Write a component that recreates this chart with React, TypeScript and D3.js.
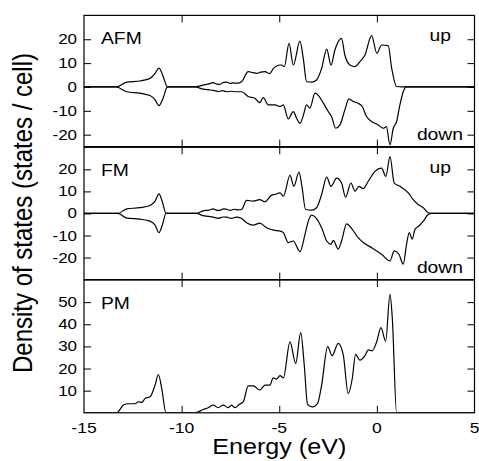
import React, { useRef, useEffect } from "react";
import * as d3 from "d3";

// [energy (eV), DOS (states / cell)], spin down stored as negative
const afmUp = [
  [-15, 0], [-13.35, 0], [-12.81, 2], [-12.13, 2.5], [-11.62, 3.6], [-11.36, 5.7], [-11.16, 7.9], [-10.94, 4.3], [-10.73, 0],
  [-9.32, 0], [-8.9, 0.8], [-8.6, 1.3], [-8.38, 1.8], [-8.2, 1.2], [-8.04, 1.1], [-7.85, 1.9], [-7.7, 2], [-7.5, 1.5],
  [-7.35, 1.7], [-7.15, 1.6], [-6.93, 2.2], [-6.59, 6.4], [-6.35, 6.0], [-6.16, 5.7], [-5.95, 6.2], [-5.73, 6.4],
  [-5.48, 5.6], [-5.3, 7.8], [-5.13, 8.8], [-4.96, 9.2], [-4.88, 9.2], [-4.74, 8.5], [-4.5, 18.3], [-4.28, 9.2],
  [-3.94, 19.2], [-3.77, 12], [-3.6, 2.2], [-3.34, 2], [-3.09, 2.9], [-2.83, 7.8], [-2.57, 15.9], [-2.35, 9.2],
  [-2.15, 15.5], [-1.81, 20.4], [-1.64, 13.4], [-1.38, 9.2], [-1.12, 8.5], [-0.87, 10.6], [-0.61, 13.4], [-0.27, 21.5],
  [0, 14.1], [0.24, 17.6], [0.58, 17.3], [0.76, 7.8], [1.01, 0.2], [1.27, 0], [5, 0],
];
const afmDown = [
  [-15, 0], [-13.35, 0], [-12.81, -2], [-12.13, -2.6], [-11.62, -3.6], [-11.36, -5.4], [-11.16, -7.8], [-10.94, -4.5],
  [-10.73, 0], [-9.32, 0], [-8.9, -0.9], [-8.6, -1.2], [-8.38, -1.4], [-8.1, -1.9], [-7.9, -1.5], [-7.7, -2], [-7.45, -1.8],
  [-7.2, -2], [-6.93, -2], [-6.59, -4], [-6.25, -4.7], [-6.0, -6.6], [-5.82, -4.5], [-5.56, -7.5], [-5.22, -7.5],
  [-4.96, -8.2], [-4.79, -7.5], [-4.54, -13.4], [-4.28, -10.3], [-4.11, -13.1], [-3.94, -15.2], [-3.77, -12], [-3.6, -7.5],
  [-3.43, -8.9], [-3.17, -2.6], [-3.0, -3.5], [-2.74, -6.8], [-2.49, -10.3], [-2.32, -12.4], [-2.11, -17.3], [-1.89, -15.9],
  [-1.64, -9.6], [-1.43, -5], [-1.21, -6.1], [-0.96, -6.8], [-0.75, -8.2], [-0.53, -12.4], [-0.27, -14.5], [0.07, -15.9],
  [0.32, -17.3], [0.49, -16.6], [0.67, -24.3], [0.84, -17.3], [1.01, -14.5], [1.18, -7.5], [1.35, -2], [1.52, 0], [5, 0],
];
const fmUp = [
  [-15, 0], [-13.27, 0], [-12.81, 2.1], [-12.13, 2.6], [-11.62, 3.6], [-11.36, 5.6], [-11.16, 8.9], [-10.98, 5], [-10.8, 0],
  [-9.23, 0], [-8.9, 1.2], [-8.6, 1.5], [-8.38, 2.1], [-8.2, 1.4], [-8.04, 1.4], [-7.85, 2.1], [-7.7, 1.9], [-7.5, 1.4],
  [-7.3, 1.9], [-7.1, 1.6], [-6.93, 1.8], [-6.67, 5.9], [-6.33, 5.6], [-6.0, 6.3], [-5.73, 5.3], [-5.39, 8.3], [-5.22, 8.6],
  [-4.96, 9.3], [-4.79, 7.8], [-4.45, 17.3], [-4.25, 12.3], [-3.99, 18.8], [-3.85, 13], [-3.65, 1.8], [-3.34, 1.5],
  [-3.09, 2.6], [-2.83, 8.6], [-2.57, 16.5], [-2.35, 12.3], [-2.06, 16], [-1.81, 13.8], [-1.6, 7.4], [-1.33, 13.8],
  [-1.12, 10.1], [-0.92, 12.3], [-0.7, 11.3], [-0.44, 14.6], [-0.1, 19.1], [0.24, 20.6], [0.46, 16.8], [0.67, 25.8],
  [0.89, 13.8], [1.18, 12.3], [1.61, 9.3], [1.86, 6.3], [2.12, 4.1], [2.38, 2.6], [2.63, 0.3], [2.8, 0], [5, 0],
];
const fmDown = [
  [-15, 0], [-13.27, 0], [-12.81, -2.1], [-12.13, -2.6], [-11.62, -3.5], [-11.36, -5.3], [-11.16, -8.7], [-10.98, -5],
  [-10.8, 0], [-9.23, 0], [-8.9, -1], [-8.6, -1.3], [-8.38, -1.7], [-8.1, -2.2], [-7.9, -1.6], [-7.7, -1.7], [-7.45, -2.2],
  [-7.2, -1.7], [-6.93, -2.3], [-6.67, -4.2], [-6.33, -5.3], [-6.0, -4.4], [-5.65, -6.5], [-5.22, -7.7], [-4.96, -8],
  [-4.79, -8.7], [-4.54, -13.2], [-4.28, -12.5], [-3.94, -17.3], [-3.68, -9.5], [-3.51, -3.5], [-3.34, -0.8], [-3.09, -2.3],
  [-2.83, -6.5], [-2.57, -12.5], [-2.35, -14], [-2.23, -12.2], [-1.98, -16.2], [-1.81, -12.5], [-1.55, -4.7], [-1.26, -7.2],
  [-0.96, -11], [-0.7, -13.2], [-0.27, -15.5], [0.24, -18.5], [0.67, -21.5], [0.89, -17], [1.13, -18.5], [1.35, -23],
  [1.52, -14], [1.66, -8.7], [1.81, -11.7], [1.95, -7.2], [2.15, -5.7], [2.38, -3.5], [2.63, -0.5], [2.8, 0], [5, 0],
];
const pm = [
  [-15, 0], [-13.33, 0], [-12.98, 3.5], [-12.73, 4.1], [-12.39, 4.1], [-12.2, 5], [-12.04, 4.7], [-11.87, 6.5], [-11.62, 7.2],
  [-11.36, 12.5], [-11.19, 17.3], [-11.02, 11], [-10.8, 0], [-9.32, 0], [-8.89, 1.5], [-8.64, 2.3], [-8.38, 3.5],
  [-8.13, 2.3], [-7.87, 3.5], [-7.62, 2.3], [-7.44, 3.5], [-7.27, 2.3], [-7.05, 3.8], [-6.84, 5], [-6.59, 12.2],
  [-6.33, 12.2], [-6.0, 10.3], [-5.73, 12.5], [-5.48, 12.5], [-5.31, 15.8], [-5.15, 15.2], [-4.96, 16.8], [-4.79, 15.8],
  [-4.45, 32], [-4.16, 22.3], [-3.9, 36.2], [-3.72, 21.6], [-3.55, 3.8], [-3.31, 2.7], [-3.04, 4.2], [-2.83, 12.5],
  [-2.52, 29.9], [-2.29, 25.8], [-1.98, 31.4], [-1.72, 26.1], [-1.47, 8.7], [-1.26, 15.5], [-1.09, 26.4], [-0.87, 23.8],
  [-0.61, 25.8], [-0.44, 28.4], [-0.24, 28], [-0.01, 32.1], [0.21, 38.5], [0.45, 32.4], [0.67, 53.5], [0.79, 42.7],
  [1.01, 0], [5, 0],
];

const xTicks = [-15, -10, -5, 0, 5];
const afmTicks = [-20, -10, 0, 10, 20];
const fmTicks = [-20, -10, 0, 10, 20];
const pmTicks = [10, 20, 30, 40, 50];

const panels = [
  { name: "AFM", series: [afmUp, afmDown], domain: [-25, 30], ticks: afmTicks, top: 15.4, bottom: 146.6, spin: true },
  { name: "FM", series: [fmUp, fmDown], domain: [-30, 30], ticks: fmTicks, top: 147.3, bottom: 279.6, spin: true },
  { name: "PM", series: [pm], domain: [0, 60], ticks: pmTicks, top: 280, bottom: 412.8, spin: false },
];

const FONT = "'Liberation Sans', Arial, Helvetica, sans-serif";
const SX = 1.17; // the original figure is a little wider than tall

const App = () => {
  const svgRef = useRef(null);

  useEffect(() => {
    const svg = d3.select(svgRef.current);
    svg.selectAll("*").remove();
    const left = 84, right = 474.5;
    const x = d3.scaleLinear().domain([-15, 5]).range([left, right]);

    const stretchText = (sel, tx, ty, str, size, anchor) =>
      sel
        .append("text")
        .attr("transform", `translate(${tx},${ty}) scale(${SX},1)`)
        .attr("text-anchor", anchor)
        .style("font-family", FONT)
        .style("font-size", `${size}px`)
        .text(str);

    panels.forEach((p, i) => {
      const y = d3.scaleLinear().domain(p.domain).range([p.bottom, p.top]);
      const g = svg.append("g");
      const clipId = `clip${i}`;
      g.append("clipPath")
        .attr("id", clipId)
        .append("rect")
        .attr("x", left)
        .attr("y", p.top)
        .attr("width", right - left)
        .attr("height", p.bottom - p.top);

      const line = d3
        .line()
        .x((d) => x(d[0]))
        .y((d) => y(d[1]))
        .curve(d3.curveMonotoneX);

      p.series.forEach((s) => {
        g.append("path")
          .attr("d", line(s))
          .attr("clip-path", `url(#${clipId})`)
          .attr("fill", "none")
          .attr("stroke", "#000")
          .attr("stroke-width", 1.2);
      });

      // axes, ticks pointing inward
      const tickLen = 7;
      const yl = g.append("g").attr("transform", `translate(${left},0)`)
        .call(d3.axisRight(y).tickValues(p.ticks).tickSize(tickLen).tickFormat(() => ""));
      const yr = g.append("g").attr("transform", `translate(${right},0)`)
        .call(d3.axisLeft(y).tickValues(p.ticks).tickSize(tickLen).tickFormat(() => ""));
      const xt = g.append("g").attr("transform", `translate(0,${p.top})`)
        .call(d3.axisBottom(x).tickValues(xTicks.slice(1, -1)).tickSize(tickLen).tickFormat(() => ""));
      const xb = g.append("g").attr("transform", `translate(0,${p.bottom})`)
        .call(d3.axisTop(x).tickValues(xTicks.slice(1, -1)).tickSize(tickLen).tickFormat(() => ""));
      [yl, yr, xt, xb].forEach((a) => {
        a.select(".domain").remove();
        a.selectAll("line").attr("stroke", "#000").attr("stroke-width", 1);
      });

      g.append("rect")
        .attr("x", left)
        .attr("y", p.top)
        .attr("width", right - left)
        .attr("height", p.bottom - p.top)
        .attr("fill", "none")
        .attr("stroke", "#000")
        .attr("stroke-width", 1.2);

      // tick labels
      p.ticks.forEach((t) => {
        stretchText(g, left - 7, y(t) + 5, String(t), 14.5, "end");
      });

      stretchText(g, 101, p.top + 29, p.name, 16.5, "start");
      if (p.spin) {
        stretchText(g, 451, p.top + 25.5, "up", 16.5, "end");
        stretchText(g, 463, p.bottom - 6.5, "down", 16.5, "end");
      }
    });

    xTicks.forEach((t) => {
      stretchText(svg, x(t), 433, t === 0 ? "0" : String(t), 15, "middle");
    });

    stretchText(svg, (left + right) / 2, 453.5, "Energy (eV)", 21.5, "middle");

    svg
      .append("text")
      .attr("transform", `translate(32,213) scale(1.18,1) rotate(-90)`)
      .attr("text-anchor", "middle")
      .style("font-family", FONT)
      .style("font-size", "24px")
      .text("Density of states (states / cell)");
  }, []);

  return (
    <svg
      ref={svgRef}
      width={479}
      height={461}
      style={{ position: "absolute", left: 0, top: 0, background: "#fff" }}
    ></svg>
  );
};

export default App;
